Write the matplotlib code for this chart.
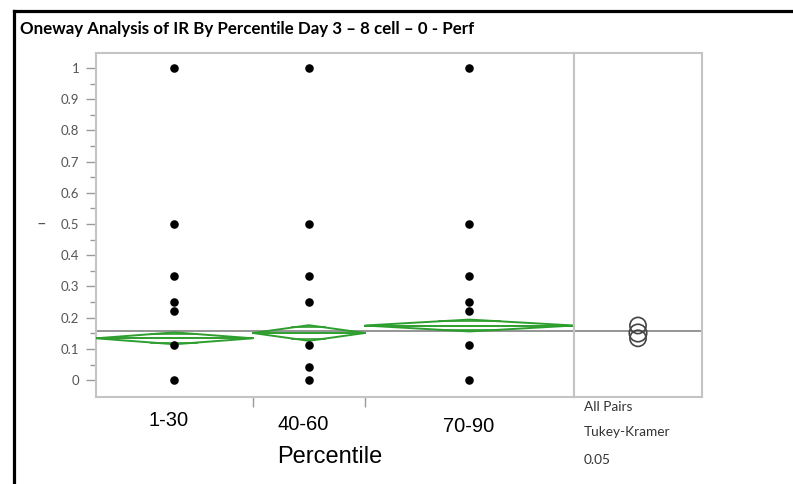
import numpy as np
import matplotlib
matplotlib.use("Agg")
import matplotlib.pyplot as plt
from matplotlib.patches import Polygon, Circle, Rectangle
import matplotlib.transforms as mtransforms

# ---------------- data ----------------
categories = ["1-30", "40-60", "70-90"]
group_n = [42, 30, 56]                       # relative group widths (sample sizes)
pts_g1 = [1.0, 0.5, 0.333, 0.25, 0.222, 0.111, 0.0]
pts_g2 = [1.0, 0.5, 0.333, 0.25, 0.111, 0.043, 0.0]
pts_g3 = [1.0, 0.5, 0.333, 0.25, 0.222, 0.111, 0.0]
group_means = [0.134, 0.151, 0.175]
group_ci = [0.019, 0.025, 0.019]
circle_radius = [0.026, 0.028, 0.026]
grand_mean = 0.157
yticks = [0, 0.1, 0.2, 0.3, 0.4, 0.5, 0.6, 0.7, 0.8, 0.9, 1]
ytick_labels = ["0", "0.1", "0.2", "0.3", "0.4", "0.5", "0.6", "0.7", "0.8", "0.9", "1"]

title = "Oneway Analysis of IR By Percentile Day 3 \u2013 8 cell \u2013 0 - Perf"
xlabel = "Percentile"
ylabel = "\u2013"
side_text = ["All Pairs", "Tukey-Kramer", "0.05"]

# ---------------- layout ----------------
W, H = 793, 484
fig = plt.figure(figsize=(W / 100, H / 100), dpi=100)

def fx(px):
    return px / W

def fy(py):
    return 1 - py / H

GREEN = "#2e9e2e"
FRAME = "#c4c4c4"
TICKC = "#9a9a9a"
LABC = "#555555"

ax_l, ax_r, ax_t, ax_b = 96, 574, 53, 397
ax = fig.add_axes([fx(ax_l), fy(ax_b), fx(ax_r - ax_l), (ax_b - ax_t) / H])
ax2 = fig.add_axes([fx(ax_r), fy(ax_b), fx(702 - ax_r), (ax_b - ax_t) / H])

ylim = (-0.054, 1.048)
bounds = np.concatenate([[0], np.cumsum(group_n)])
centers = (bounds[:-1] + bounds[1:]) / 2

ax.set_xlim(0, bounds[-1])
ax.set_ylim(*ylim)

# points
for xc, pts in zip(centers, [pts_g1, pts_g2, pts_g3]):
    ax.scatter(np.full(len(pts), xc), pts, s=38, color="black", zorder=5, linewidths=0)

# mean diamonds
for i, (m, ci) in enumerate(zip(group_means, group_ci)):
    l, r = bounds[i], bounds[i + 1]
    c = centers[i]
    half = (r - l) / 2
    poly = Polygon([[l, m], [c, m + ci], [r, m], [c, m - ci]], closed=True,
                   fill=False, edgecolor=GREEN, lw=1.4, zorder=3)
    ax.add_patch(poly)
    ax.plot([l, r], [m, m], color=GREEN, lw=1.4, zorder=3)
    ov = ci / np.sqrt(2)
    w = half * (1 - 1 / np.sqrt(2))
    for s in (1, -1):
        ax.plot([c - w, c + w], [m + s * ov, m + s * ov], color=GREEN, lw=1.2, zorder=3)

ax.axhline(grand_mean, color="#8c8c8c", lw=1.3, zorder=2)

ax.set_yticks(yticks)
ax.set_yticklabels(ytick_labels)
ax.set_yticks(np.arange(0.05, 1.0, 0.1), minor=True)
ax.tick_params(axis="y", which="major", length=7, width=1, color=TICKC,
               labelsize=9.5, labelcolor=LABC, pad=5)
ax.tick_params(axis="y", which="minor", length=4, width=1, color=TICKC)
for lab in ax.get_yticklabels():
    lab.set_fontfamily("Lato")
ax.set_xticks(bounds[1:-1])
ax.set_xticklabels([])
ax.tick_params(axis="x", which="major", length=7, width=1, color=TICKC)
for sp in ax.spines.values():
    sp.set_color(FRAME)
    sp.set_linewidth(1.5)

# x category labels
label_dx = [-6, -6, -1]
label_py = [421, 424, 427]
for xc, lab, dx, py in zip(centers, categories, label_dx, label_py):
    trans = mtransforms.blended_transform_factory(ax.transData, fig.transFigure)
    trans = trans + mtransforms.ScaledTranslation(dx / 100, 0, fig.dpi_scale_trans)
    ax.text(xc, fy(py), lab, transform=trans, ha="center", va="center",
            fontsize=14.5, family="Liberation Sans", color="black")

# right comparison-circle panel
ax2.set_ylim(*ylim)
xr = (702 - ax_r) / 2 / ((ax_b - ax_t) / (ylim[1] - ylim[0]))
ax2.set_xlim(-xr, xr)
ax2.axhline(grand_mean, color="#8c8c8c", lw=1.3, zorder=2)
for m, rad in zip(group_means, circle_radius):
    ax2.add_patch(Circle((0, m), rad, fill=False, edgecolor="#444444", lw=1.2, zorder=4))
ax2.set_xticks([])
ax2.set_yticks([])
for sp in ax2.spines.values():
    sp.set_color(FRAME)
    sp.set_linewidth(1.5)

# titles / labels
fig.text(fx(20), fy(29), title, ha="left", va="center", fontsize=12.2,
         family="Lato", fontweight="bold", color="black")
fig.text(fx(41), fy(224), ylabel, ha="center", va="center", fontsize=12,
         family="Lato", color=LABC)
xl = fig.text(fx(330), fy(457), xlabel, ha="center", va="center", fontsize=17,
              family="Liberation Sans", color="black")
xl.set_clip_path(Rectangle((0, fy(463)), 1, 1, transform=fig.transFigure))

for txt, py in zip(side_text, [407, 432, 460]):
    fig.text(fx(584), fy(py), txt, ha="left", va="center", fontsize=9.8,
             family="Lato", color="#333333")

# outer black border lines
fig.add_artist(plt.Line2D([fx(13.5), 1], [fy(11), fy(11)], color="black", lw=2.3))
fig.add_artist(plt.Line2D([fx(13.5), fx(13.5)], [fy(11), 0], color="black", lw=2.3))

fig.savefig("out.png", dpi=100)
